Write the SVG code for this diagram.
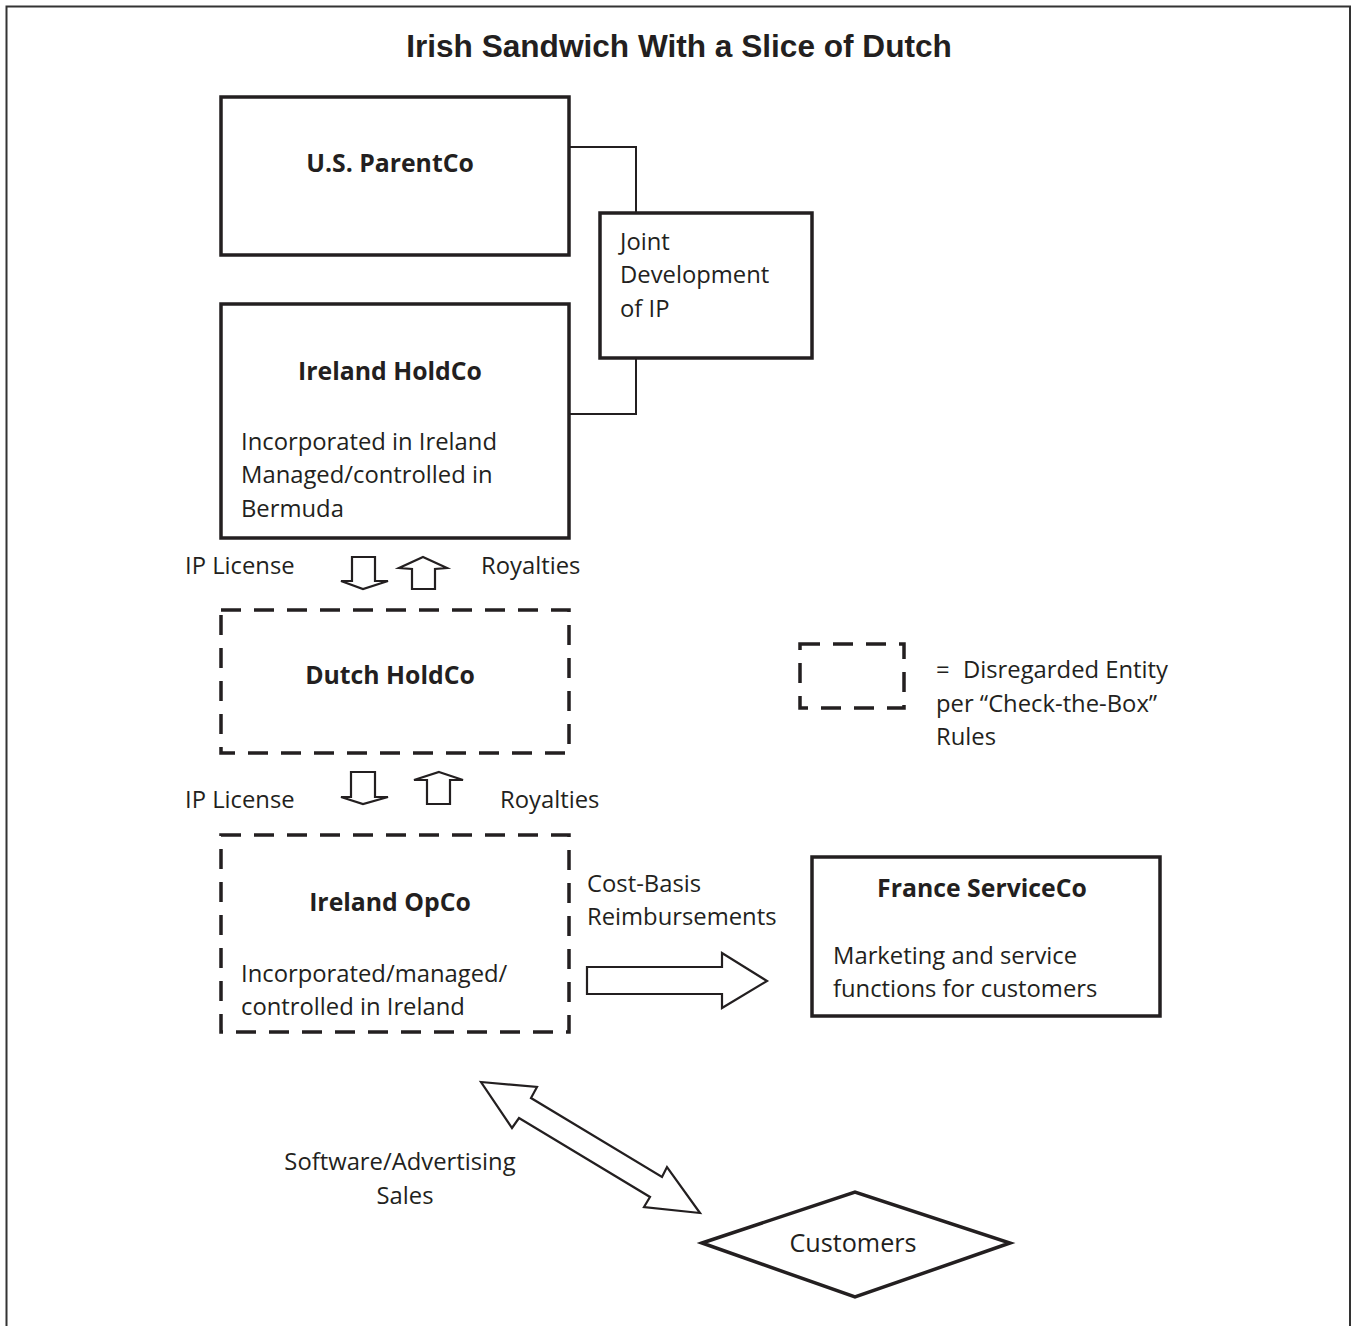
<svg xmlns="http://www.w3.org/2000/svg" width="1351" height="1326" viewBox="0 0 1351 1326">
<style>
.box{fill:#fff;stroke:#231f20;stroke-width:3.5}
.dash{fill:#fff;stroke:#231f20;stroke-width:3.5;stroke-dasharray:20 13}
.conn{fill:none;stroke:#231f20;stroke-width:2}
.blk{fill:#fff;stroke:#231f20;stroke-width:2.2;stroke-linejoin:miter}
.t{font-family:"Open Sans","Noto Sans",sans-serif;font-size:23.8px;fill:#231f20}
.b{font-family:"Open Sans","Noto Sans",sans-serif;font-size:24.8px;font-weight:bold;fill:#231f20;text-anchor:middle}
.title{font-family:"Liberation Sans",Arial,sans-serif;font-size:31.6px;font-weight:bold;fill:#231f20;text-anchor:middle}
</style>
<rect x="0" y="0" width="1351" height="1326" fill="#fff"/>
<rect x="6.5" y="6.5" width="1343.5" height="1340" fill="none" stroke="#333" stroke-width="2"/>
<text class="title" x="679" y="57">Irish Sandwich With a Slice of Dutch</text>

<g id="connectors">
<polyline class="conn" points="569,147 636,147 636,213"/>
<polyline class="conn" points="636,358 636,414 569,414"/>
<polygon class="blk" points="352,557 375,557 375,581 388,581 363,589 341,581 352,581"/>
<polygon class="blk" points="423,557 447,568 435,569 435,589 412,589 412,569 399,568"/>
<polygon class="blk" points="351,772 375,772 375,797 388,797 363,804 341,797 351,797"/>
<polygon class="blk" points="439,772 463,780 450,780 450,804 427,804 427,780 414,780"/>
<polygon class="blk" points="587,967 722,967 722,953 767,981 722,1008 722,994 587,994"/>
<polygon class="blk" points="481,1082 537,1087 531,1098 662,1177 667,1167 700,1213 644,1207 650,1197 519,1118 512,1128"/>
<text class="t" x="185" y="574">IP License</text>
<text class="t" x="481" y="574">Royalties</text>
<text class="t" x="185" y="808">IP License</text>
<text class="t" x="500" y="808">Royalties</text>
<text class="t" x="587" y="892">Cost-Basis</text>
<text class="t" x="587" y="925">Reimbursements</text>
<text class="t" x="400" y="1170" text-anchor="middle">Software/Advertising</text>
<text class="t" x="405" y="1204" text-anchor="middle">Sales</text>
</g>

<g id="us-parentco">
<rect class="box" x="221" y="97" width="348" height="158"/>
<text class="b" x="390" y="172">U.S. ParentCo</text>
</g>

<g id="joint-development">
<rect class="box" x="600" y="213" width="212" height="145"/>
<text class="t" x="620" y="250">Joint</text>
<text class="t" x="620" y="283">Development</text>
<text class="t" x="620" y="317">of IP</text>
</g>

<g id="ireland-holdco">
<rect class="box" x="221" y="304" width="348" height="234"/>
<text class="b" x="390" y="380">Ireland HoldCo</text>
<text class="t" x="241" y="450">Incorporated in Ireland</text>
<text class="t" x="241" y="483">Managed/controlled in</text>
<text class="t" x="241" y="517">Bermuda</text>
</g>

<g id="dutch-holdco">
<rect class="dash" x="221" y="610" width="348" height="143"/>
<text class="b" x="390" y="684">Dutch HoldCo</text>
</g>

<g id="legend">
<rect class="dash" x="800" y="644" width="104" height="64"/>
<text class="t" x="936" y="678">=</text>
<text class="t" x="963" y="678">Disregarded Entity</text>
<text class="t" x="936" y="712">per “Check-the-Box”</text>
<text class="t" x="936" y="745">Rules</text>
</g>

<g id="ireland-opco">
<rect class="dash" x="221" y="835" width="348" height="197"/>
<text class="b" x="390" y="911">Ireland OpCo</text>
<text class="t" x="241" y="982">Incorporated/managed/</text>
<text class="t" x="241" y="1015">controlled in Ireland</text>
</g>

<g id="france-serviceco">
<rect class="box" x="812" y="857" width="348" height="159"/>
<text class="b" x="982" y="897">France ServiceCo</text>
<text class="t" x="833" y="964">Marketing and service</text>
<text class="t" x="833" y="997">functions for customers</text>
</g>

<g id="customers">
<polygon class="box" points="702,1243 855,1192 1010,1243 855,1297"/>
<text class="t" x="853" y="1252" text-anchor="middle" style="font-size:25.2px">Customers</text>
</g>
</svg>
